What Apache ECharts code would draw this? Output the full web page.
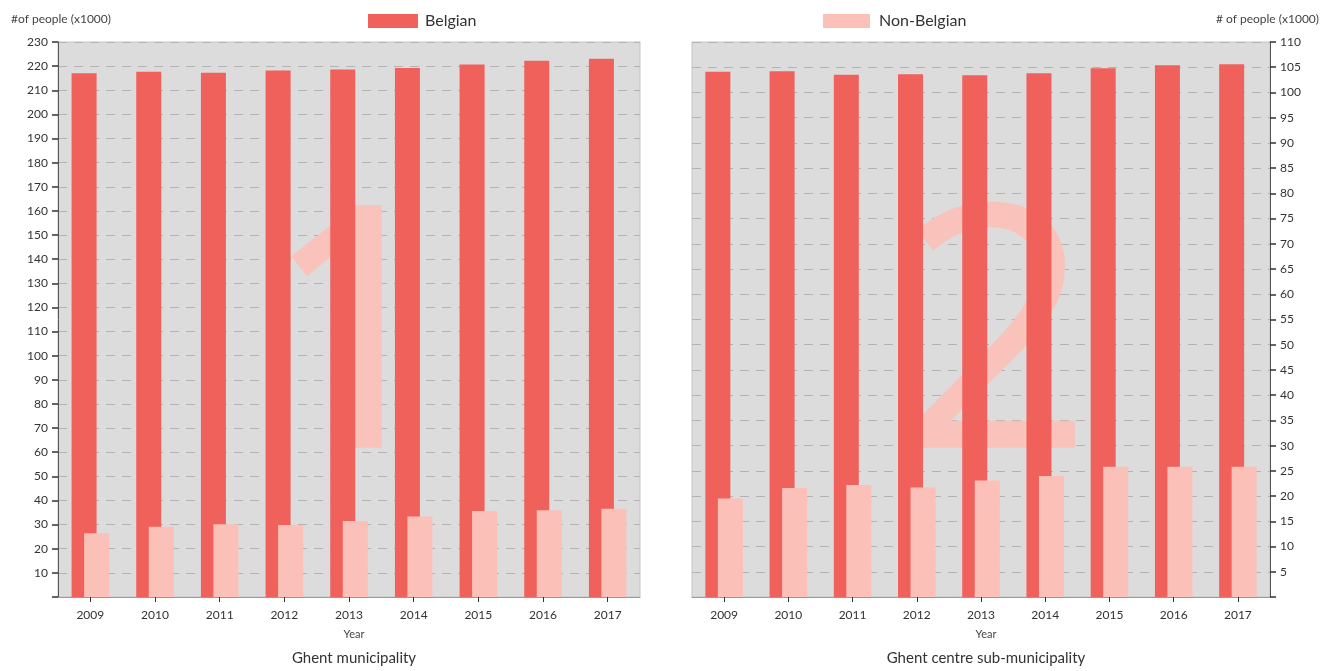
<!DOCTYPE html>
<html>
<head>
<meta charset="utf-8">
<script src="https://cdn.jsdelivr.net/npm/echarts@6/dist/echarts.min.js"></script>
<style>
html,body{margin:0;padding:0;background:#fff;}
#chart{width:1331px;height:671px;}
</style>
</head>
<body>
<div id="chart"></div>
<script>
// ---- data ----
var years = ['2009','2010','2011','2012','2013','2014','2015','2016','2017'];
var ghentBelgian    = [217.0, 217.7, 217.3, 218.2, 218.6, 219.2, 220.7, 222.2, 223.1];
var ghentNonBelgian = [26.4, 29.1, 30.1, 29.8, 31.5, 33.4, 35.6, 36.0, 36.6];
var centreBelgian    = [104.1, 104.2, 103.5, 103.6, 103.4, 103.8, 104.8, 105.4, 105.6];
var centreNonBelgian = [19.5, 21.6, 22.2, 21.7, 23.1, 24.0, 25.8, 25.8, 25.8];
var leftAxis  = {min: 0, max: 230, interval: 10};
var rightAxis = {min: 0, max: 110, interval: 5};

var FONT = 'Lato, "Noto Sans", sans-serif';
var C_BEL = '#f0615b';
var C_NON = '#fbc0b8';
var BG = '#dcdcdc';

var chart = echarts.init(document.getElementById('chart'), null, {renderer: 'canvas'});

function xAxisCfg(gi) {
  return {
    type: 'category', gridIndex: gi, data: years,
    axisLine: {show: true, lineStyle: {color: '#9a9a9a', width: 1}},
    axisTick: {show: true, alignWithLabel: true, length: 5, lineStyle: {color: '#333'}},
    axisLabel: {color: '#333', fontSize: 12, fontFamily: FONT, margin: 12},
    splitLine: {show: false}
  };
}
function yAxisCfg(gi, ax, pos) {
  return {
    type: 'value', gridIndex: gi, position: pos,
    min: ax.min, max: ax.max, interval: ax.interval,
    axisLine: {show: true, lineStyle: {color: '#555', width: 1}},
    axisTick: {show: true, length: 6, lineStyle: {color: '#333', width: 1.5}},
    axisLabel: {color: '#333', fontSize: 12, fontFamily: FONT, margin: 10,
      formatter: function (v) { return v === 0 ? '' : String(v); }},
    splitLine: {show: true, lineStyle: {color: '#b3b3b3', type: [9, 7], width: 1}}
  };
}
function barSeries(name, data, gi, color) {
  return {
    name: name, type: 'bar', xAxisIndex: gi, yAxisIndex: gi, data: data,
    barWidth: 25, barGap: '-50%', z: 3,
    itemStyle: {color: color},
    emphasis: {disabled: true}
  };
}

var option = {
  animation: false,
  backgroundColor: '#fff',
  textStyle: {fontFamily: FONT},
  grid: [
    {left: 58, right: 691, top: 42, bottom: 74, show: true, backgroundColor: BG, borderColor: '#c4c4c4', borderWidth: 1},
    {left: 692, right: 61, top: 42, bottom: 74, show: true, backgroundColor: BG, borderColor: '#c4c4c4', borderWidth: 1}
  ],
  legend: [
    {data: ['Belgian'], left: 363, top: 8, itemWidth: 50, itemHeight: 14, icon: 'rect',
      textStyle: {fontSize: 16, color: '#333', fontFamily: FONT, padding: [0, 0, 0, 2]}},
    {data: ['Non-Belgian'], left: 818, top: 8, itemWidth: 47, itemHeight: 14, icon: 'rect',
      textStyle: {fontSize: 16, color: '#333', fontFamily: FONT, padding: [0, 0, 0, 4]}}
  ],
  title: [
    {text: '#of people (x1000)', left: 6, top: 8, textStyle: {fontSize: 12, fontWeight: 'normal', color: '#444', fontFamily: FONT}},
    {text: '# of people (x1000)', right: 7, top: 8, textStyle: {fontSize: 12, fontWeight: 'normal', color: '#444', fontFamily: FONT}},
    {text: 'Year', left: 349, top: 624, textAlign: 'center', textStyle: {fontSize: 11, fontWeight: 'normal', color: '#444', fontFamily: FONT}},
    {text: 'Year', left: 981, top: 624, textAlign: 'center', textStyle: {fontSize: 11, fontWeight: 'normal', color: '#444', fontFamily: FONT}},
    {text: 'Ghent municipality', left: 349, top: 646, textAlign: 'center', textStyle: {fontSize: 15, fontWeight: 'normal', color: '#333', fontFamily: FONT}},
    {text: 'Ghent centre sub-municipality', left: 981, top: 646, textAlign: 'center', textStyle: {fontSize: 15, fontWeight: 'normal', color: '#333', fontFamily: FONT}}
  ],
  graphic: [
    {type: 'text', z: 1, silent: true,
      style: {text: '1', x: 261, y: 181, fontSize: 340, fontFamily: 'Noto Sans', fontWeight: 'normal', verticalAlign: 'top', align: 'left', fill: '#f9c3bb'}},
    {type: 'text', z: 1, silent: true,
      style: {text: '2', x: 898, y: 181, fontSize: 340, fontFamily: 'Noto Sans', fontWeight: 'normal', verticalAlign: 'top', align: 'left', fill: '#f9c3bb'}}
  ],
  xAxis: [xAxisCfg(0), xAxisCfg(1)],
  yAxis: [yAxisCfg(0, leftAxis, 'left'), yAxisCfg(1, rightAxis, 'right')],
  series: [
    barSeries('Belgian', ghentBelgian, 0, C_BEL),
    barSeries('Non-Belgian', ghentNonBelgian, 0, C_NON),
    barSeries('Belgian', centreBelgian, 1, C_BEL),
    barSeries('Non-Belgian', centreNonBelgian, 1, C_NON)
  ]
};
chart.setOption(option);
</script>
</body>
</html>
